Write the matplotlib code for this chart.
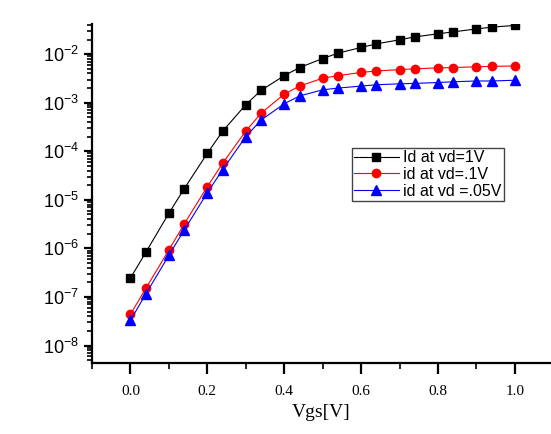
import matplotlib.pyplot as plt
from matplotlib.ticker import LogLocator, NullFormatter, MultipleLocator

vgs = [0.0, 0.04, 0.1, 0.14, 0.2, 0.24, 0.3, 0.34, 0.4, 0.44, 0.5, 0.54,
       0.6, 0.64, 0.7, 0.74, 0.8, 0.84, 0.9, 0.94, 1.0]

id_1v = [2.45e-7, 8.3e-7, 5.3e-6, 1.7e-5, 9.1e-5, 2.6e-4, 9.1e-4, 1.8e-3,
         3.6e-3, 5.3e-3, 8.1e-3, 1.05e-2, 1.37e-2, 1.63e-2, 1.97e-2,
         2.27e-2, 2.62e-2, 2.88e-2, 3.3e-2, 3.6e-2, 3.9e-2]
id_01v = [4.4e-8, 1.5e-7, 9.3e-7, 3.2e-6, 1.87e-5, 5.7e-5, 2.6e-4, 6.1e-4,
          1.5e-3, 2.2e-3, 3.2e-3, 3.6e-3, 4.2e-3, 4.5e-3, 4.8e-3, 5.0e-3,
          5.2e-3, 5.3e-3, 5.5e-3, 5.6e-3, 5.7e-3]
id_005v = [3.3e-8, 1.15e-7, 7.2e-7, 2.4e-6, 1.4e-5, 4.2e-5, 2.0e-4, 4.4e-4,
           9.5e-4, 1.38e-3, 1.84e-3, 2.0e-3, 2.2e-3, 2.34e-3, 2.45e-3, 2.5e-3,
           2.6e-3, 2.7e-3, 2.8e-3, 2.8e-3, 2.9e-3]

labels = ["Id at vd=1V", "id at vd=.1V", "id at vd =.05V"]

fig = plt.figure(figsize=(5.51, 4.34), dpi=100)
ax = fig.add_axes([0.167, 0.164, 0.833, 0.781])

ax.plot(vgs, id_1v, color='black', lw=0.8, marker='s', ms=5.3, label=labels[0])
ax.plot(vgs, id_01v, color='red', lw=0.8, marker='o', ms=6, label=labels[1])
ax.plot(vgs, id_005v, color='blue', lw=0.8, marker='^', ms=6.5, label=labels[2])

ax.set_yscale('log')
ax.set_ylim(4.4e-9, 0.042)
ax.set_xlim(-0.1, 1.094)

ax.spines['top'].set_visible(False)
ax.spines['right'].set_visible(False)
ax.spines['left'].set_linewidth(1.6)
ax.spines['bottom'].set_linewidth(1.6)

ax.set_yticks([1e-8, 1e-7, 1e-6, 1e-5, 1e-4, 1e-3, 1e-2])
ax.yaxis.set_minor_locator(LogLocator(base=10, subs=range(2, 10), numticks=20))
ax.yaxis.set_minor_formatter(NullFormatter())
ax.set_xticks([0.0, 0.2, 0.4, 0.6, 0.8, 1.0])
ax.set_xticklabels(['0.0', '0.2', '0.4', '0.6', '0.8', '1.0'])
ax.xaxis.set_minor_locator(MultipleLocator(0.1))

ax.tick_params(axis='both', which='major', direction='out', length=6, width=1.6)
ax.tick_params(axis='both', which='minor', direction='out', length=3.5, width=1.2)
ax.tick_params(axis='x', which='major', length=8, pad=8)
ax.tick_params(axis='x', which='minor', length=4)

for t in ax.get_yticklabels():
    t.set_family('Liberation Sans')
    t.set_fontsize(13)
for t in ax.get_xticklabels():
    t.set_family('Liberation Serif')
    t.set_fontsize(11)

ax.set_xlabel('Vgs[V]', family='Liberation Serif', fontsize=14, labelpad=4)

leg = ax.legend(loc='upper left', bbox_to_anchor=(0.638, 0.659),
                bbox_transform=fig.transFigure, fancybox=False, framealpha=1,
                edgecolor='#444444', prop={'family': 'Liberation Sans', 'size': 11.5},
                handlelength=2.8, labelspacing=0.1, borderpad=0.15,
                handletextpad=0.3, borderaxespad=0)
leg.get_frame().set_linewidth(1.0)

fig.savefig('out.png', dpi=100)
